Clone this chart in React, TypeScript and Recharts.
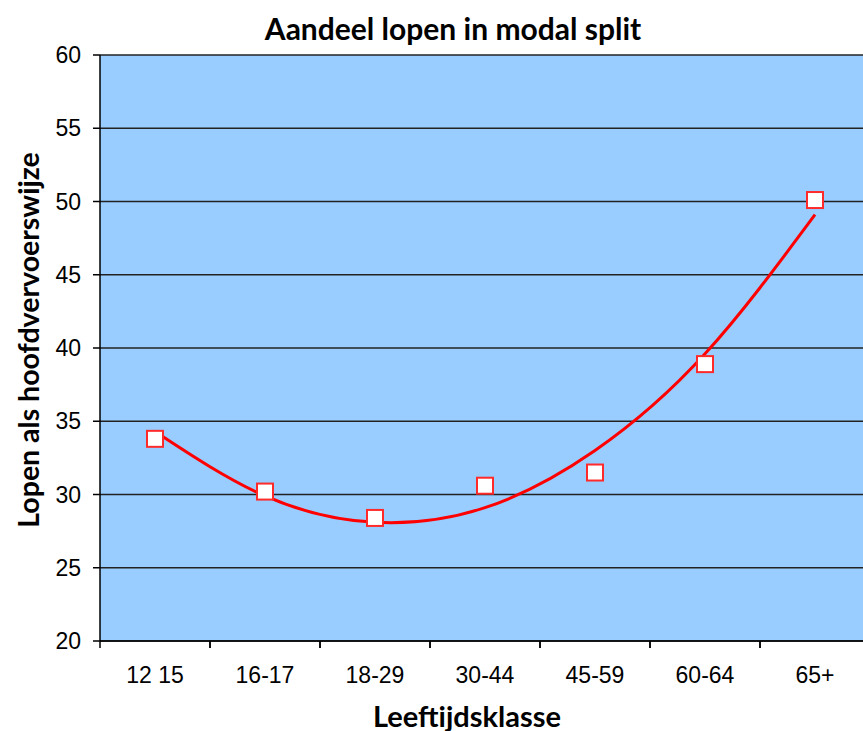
import React from 'react';
import { ComposedChart, Line, XAxis, YAxis, CartesianGrid } from 'recharts';

const categories = ['12 15', '16-17', '18-29', '30-44', '45-59', '60-64', '65+'];
const observed = [33.8, 30.2, 28.4, 30.6, 31.5, 38.9, 50.1];
const trend = [34.3, 29.9, 28.1, 29.1, 33.0, 39.6, 49.1];
const yTicks = [20, 25, 30, 35, 40, 45, 50, 55, 60];

const data = categories.map((c, i) => ({ cat: c, obs: observed[i], trend: trend[i] }));

const TICK_SIZE = 7;
const TICK_MARGIN = 18;

const XTick = (props: any) => {
  const { x, y, payload, width } = props;
  const band = width / categories.length;
  const y0 = y - TICK_MARGIN - TICK_SIZE;
  const y1 = y - TICK_MARGIN;
  return (
    <g>
      <line x1={x - band / 2} y1={y0} x2={x - band / 2} y2={y1} stroke="#000" strokeWidth={1.5} />
      <line x1={x + band / 2} y1={y0} x2={x + band / 2} y2={y1} stroke="#000" strokeWidth={1.5} />
      <text x={x} y={y} dy="0.72em" textAnchor="middle" fill="#000" fontSize={23} fontFamily="'Liberation Sans', Arial, sans-serif">
        {payload.value}
      </text>
    </g>
  );
};

const SquareDot = (props: any) => {
  const { cx, cy } = props;
  if (cx == null || cy == null) return null;
  return <rect x={cx - 8} y={cy - 8} width={16} height={16} fill="#ffffff" stroke="#ff2a2a" strokeWidth={2} />;
};

const labelFont = "Lato, 'Open Sans', sans-serif";

export default function App() {
  return (
    <div style={{ position: 'absolute', left: 0, top: 0, width: 863, height: 731, overflow: 'hidden', background: '#fff' }}>
      <ComposedChart width={880} height={731} data={data} margin={{ top: 55, right: 10, bottom: 0, left: 0 }}>
        <CartesianGrid vertical={false} horizontal={true} stroke="#222" strokeWidth={1.5} fill="#99CCFF" fillOpacity={1} />
        <XAxis
          dataKey="cat"
          scale="band"
          height={90}
          interval={0}
          tickLine={false}
          tickSize={TICK_SIZE}
          tickMargin={TICK_MARGIN}
          axisLine={{ stroke: '#000', strokeWidth: 1.5 }}
          tick={<XTick />}
        />
        <YAxis
          width={100}
          domain={[20, 60]}
          ticks={yTicks}
          interval={0}
          tickSize={TICK_SIZE}
          tickMargin={12}
          tickLine={{ stroke: '#000', strokeWidth: 1.5 }}
          axisLine={{ stroke: '#000', strokeWidth: 1.5 }}
          tick={{ fill: '#000', fontSize: 23, fontFamily: "'Liberation Sans', Arial, sans-serif" }}
        />
        <Line
          dataKey="obs"
          stroke="none"
          dot={<SquareDot />}
          activeDot={false}
          isAnimationActive={false}
          legendType="none"
        />
        <Line
          dataKey="trend"
          type="natural"
          stroke="#ff0000"
          strokeWidth={3}
          dot={false}
          activeDot={false}
          isAnimationActive={false}
          legendType="none"
        />
      </ComposedChart>
      <div
        style={{
          position: 'absolute', left: 453, top: 28, transform: 'translate(-50%, -50%)',
          fontFamily: labelFont, fontWeight: 700, fontSize: 30, whiteSpace: 'nowrap', color: '#000', lineHeight: 1,
        }}
      >
        Aandeel lopen in modal split
      </div>
      <div
        style={{
          position: 'absolute', left: 28, top: 340, transform: 'translate(-50%, -50%) rotate(-90deg)',
          fontFamily: labelFont, fontWeight: 700, fontSize: 28.5, whiteSpace: 'nowrap', color: '#000', lineHeight: 1,
        }}
      >
        Lopen als hoofdvervoerswijze
      </div>
      <div
        style={{
          position: 'absolute', left: 467, top: 715, transform: 'translate(-50%, -50%)',
          fontFamily: labelFont, fontWeight: 700, fontSize: 29, whiteSpace: 'nowrap', color: '#000', lineHeight: 1,
        }}
      >
        Leeftijdsklasse
      </div>
    </div>
  );
}
